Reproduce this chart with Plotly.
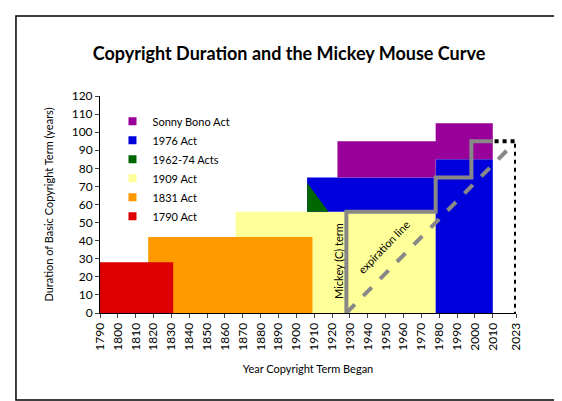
import plotly.graph_objects as go

# acts: (name, colour, x0, x1, y0, y1)
acts = ["1909 Act", "1831 Act", "1790 Act", "1976 Act", "Sonny Bono Act"]
colors = ["#ffff99", "#ff9900", "#dd0000", "#0000dd", "#990099"]
x0s = [[1866], [1817], [1790], [1906, 1978], [1923, 1978]]
x1s = [[1978], [1909], [1831], [1978, 2010], [1978, 2010]]
y0s = [[0], [0], [0], [56, 0], [75, 85]]
y1s = [[56], [42], [28], [75, 85], [95, 105]]

green_x = [1906, 1906, 1918]
green_y = [56, 72, 56]

legend_names = ["Sonny Bono Act", "1976 Act", "1962-74 Acts", "1909 Act", "1831 Act", "1790 Act"]
legend_colors = ["#990099", "#0000dd", "#006600", "#ffff99", "#ff9900", "#dd0000"]

mickey_x = [1928, 1928, 1978, 1978, 1998, 1998, 2010]
mickey_y = [0, 56, 56, 75, 75, 95, 95]
proj_x = [2011, 2023, 2023]
proj_y = [95, 95, 0]
exp_x = [1928, 2020]
exp_y = [0, 92]

xticks = list(range(1790, 2011, 10)) + [2023]

fig = go.Figure()
for name, c, a0, a1, b0, b1 in zip(acts, colors, x0s, x1s, y0s, y1s):
    xs, ys = [], []
    for p, q, r, s in zip(a0, a1, b0, b1):
        xs += [p, q, q, p, p, None]
        ys += [r, r, s, s, r, None]
    fig.add_trace(go.Scatter(x=xs, y=ys, fill="toself", fillcolor=c, mode="none",
                             showlegend=False, hoverinfo="skip"))
    if name == "1976 Act":
        fig.add_trace(go.Scatter(x=green_x + [green_x[0]], y=green_y + [green_y[0]],
                                 fill="toself", fillcolor="#006600", mode="none",
                                 showlegend=False, hoverinfo="skip"))

for i, (n, c) in enumerate(zip(legend_names, legend_colors)):
    fig.add_trace(go.Scatter(x=[None], y=[None], mode="markers", name=n, legendrank=i,
                             marker=dict(symbol="square", size=8, color=c)))

fig.add_trace(go.Scatter(x=mickey_x, y=mickey_y, mode="lines",
                         line=dict(color="#888888", width=4), showlegend=False))
fig.add_trace(go.Scatter(x=exp_x, y=exp_y, mode="lines",
                         line=dict(color="#888888", width=4, dash="dash"), showlegend=False))
fig.add_trace(go.Scatter(x=proj_x, y=proj_y, mode="lines",
                         line=dict(color="black", width=4, dash="dot"), showlegend=False))

fig.add_annotation(x=1923.5, y=29, text="Mickey (C) term", textangle=-90,
                   showarrow=False, font=dict(size=11))
fig.add_annotation(x=1949, y=37, text="expiration line", textangle=-46,
                   showarrow=False, font=dict(size=11))
fig.add_annotation(x=2031, y=52, text="projected expiration", textangle=90,
                   showarrow=False, font=dict(size=11))

fig.add_shape(type="rect", xref="paper", yref="paper", x0=-0.202, x1=1.108,
              y0=-0.401, y1=1.369, line=dict(color="black", width=1.5))

fig.update_layout(
    width=562, height=401,
    margin=dict(l=92, r=54, t=88, b=96),
    paper_bgcolor="white", plot_bgcolor="white",
    font=dict(family="Lato", size=12, color="black"),
    title=dict(text="<b>Copyright Duration and the Mickey Mouse Curve</b>",
               x=0.5, xref="container", y=0.885, yanchor="middle",
               font=dict(size=18)),
    legend=dict(x=0.03, y=0.95, xanchor="left", yanchor="top",
                bgcolor="rgba(0,0,0,0)", font=dict(size=11),
                itemwidth=30, tracegroupgap=0),
    showlegend=True,
)
fig.update_xaxes(range=[1790, 2023], tickvals=xticks, ticktext=[str(v) for v in xticks],
                 tickangle=-90, ticks="outside", ticklen=4, showgrid=False,
                 showline=True, linecolor="black", zeroline=False, tickfont=dict(size=12),
                 title=dict(text="Year Copyright Term Began", font=dict(size=11)))
fig.update_yaxes(range=[0, 120], dtick=10, ticks="outside", ticklen=4, showgrid=False,
                 showline=True, linecolor="black", zeroline=False, tickfont=dict(size=12),
                 title=dict(text="Duration of Basic Copyright Term (years)", font=dict(size=11)))

fig.write_html("out.html")
